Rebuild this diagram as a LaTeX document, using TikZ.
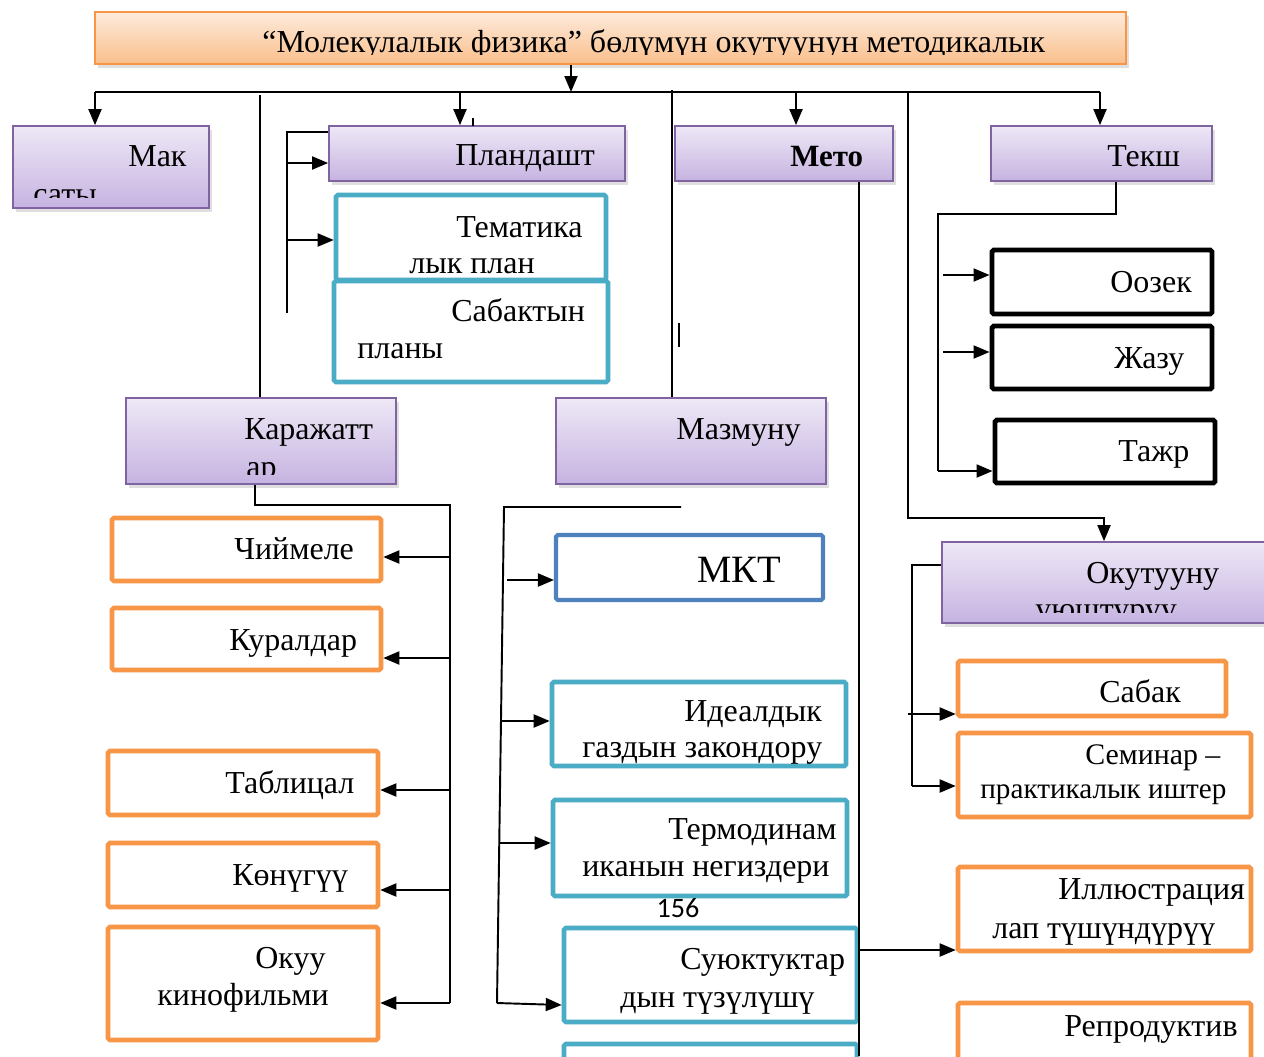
\documentclass[tikz,border=0pt]{standalone}
\usepackage{fontspec}
\setmainfont{Liberation Serif}
\newfontfamily\pagefont{Carlito}
\usetikzlibrary{arrows.meta,fit,shadows}
\definecolor{purpleline}{HTML}{8064A2}
\definecolor{purpletop}{HTML}{EEE8F6}
\definecolor{purplebot}{HTML}{C6B3E1}
\definecolor{orangeline}{HTML}{F79646}
\definecolor{orangetop}{HTML}{FDEBDC}
\definecolor{orangebot}{HTML}{FABF8C}
\definecolor{cyanline}{HTML}{4BACC6}
\definecolor{blueline}{HTML}{4F81BD}
\tikzset{
  headbox/.style = {draw=orangeline, line width=1pt, inner sep=0pt,
    top color=orangetop, bottom color=orangebot,
    drop shadow={shadow xshift=1.5pt, shadow yshift=-2pt, opacity=0.25}},
  purplebox/.style = {draw=purpleline, line width=1pt, inner sep=0pt,
    top color=purpletop, bottom color=purplebot,
    drop shadow={shadow xshift=1.5pt, shadow yshift=-2pt, opacity=0.25}},
  cyanbox/.style = {draw=cyanline, line width=2.6pt, inner sep=0pt, rounded corners=1pt},
  bluebox/.style = {draw=blueline, line width=2.3pt, inner sep=0pt, rounded corners=1pt},
  orangebox/.style = {draw=orangeline, line width=2.6pt, inner sep=0pt, rounded corners=1pt},
  blackbox/.style = {draw=black, line width=2.8pt, inner sep=0pt, rounded corners=1pt},
  lbl/.style = {anchor=base west, inner sep=0pt, font=\fontsize{18.2}{22}\selectfont},
  conn/.style = {line width=1.1pt}
}
\begin{document}
\begin{tikzpicture}[x=0.02cm, y=-0.02cm, >={Triangle[length=0.32cm,width=0.26cm]}]
\clip (0,0) rectangle (1264,1056);
\fill[white] (0,0) rectangle (1264,1056);

% boxes
\node[headbox, fit={(95,12) (1126,64)}] (title) {};
\node[purplebox, fit={(13,126) (209,208)}] (mak) {};
\node[purplebox, fit={(329,126) (625,181)}] (plan) {};
\node[purplebox, fit={(675,126) (893,181)}] (meto) {};
\node[purplebox, fit={(991,126) (1212,181)}] (teksh) {};
\node[cyanbox, fit={(336,195) (606,280)}] (tema) {};
\node[cyanbox, fit={(334,281) (608,382)}] (sabpl) {};
\node[purplebox, fit={(126,398) (396,484)}] (kar) {};
\node[purplebox, fit={(556,398) (826,484)}] (maz) {};
\node[blackbox, fit={(992,250) (1212,314)}] (oozek) {};
\node[blackbox, fit={(992,326) (1212,389)}] (jazu) {};
\node[blackbox, fit={(995,420) (1215,483)}] (tajr) {};
\node[purplebox, fit={(942,542) (1290,623)}] (okut) {};
\node[orangebox, fit={(958,661) (1226,716)}] (sabak) {};
\node[orangebox, fit={(958,733) (1251,817)}] (sem) {};
\node[orangebox, fit={(958,867) (1251,951)}] (ill) {};
\node[orangebox, fit={(958,1003) (1251,1090)}] (rep) {};
\node[orangebox, fit={(112,518) (381,581)}] (chiy) {};
\node[orangebox, fit={(112,608) (381,670)}] (kur) {};
\node[orangebox, fit={(108,751) (378,815)}] (tab) {};
\node[orangebox, fit={(108,843) (378,907)}] (kon) {};
\node[orangebox, fit={(108,927) (378,1040)}] (kino) {};
\node[bluebox, fit={(556,535) (823,600)}] (mkt) {};
\node[cyanbox, fit={(552,682) (846,766)}] (ideal) {};
\node[cyanbox, fit={(553,800) (847,896)}] (termo) {};
\node[cyanbox, fit={(564,928) (857,1022)}] (suy) {};
\node[cyanbox, fit={(564,1044) (857,1100)}] (last) {};

% texts
\begin{scope}
\clip (96,13) rectangle (1125,54);
\node[lbl] (titleT) at (262,52) {“Молекулалык физика” бөлүмүн окутуунун методикалык};
\end{scope}
\node[lbl] (makT) at (128,166) {Мак};
\begin{scope}
\clip (14,127) rectangle (208,197);
\node[lbl] (makT2) at (33,204) {саты};
\end{scope}
\node[lbl] (planT) at (455,165) {Пландашт};
\node[lbl, font=\fontsize{17.6}{22}\selectfont\bfseries] (metoT) at (790,166) {Мето};
\node[lbl] (tekshT) at (1107,166) {Текш};
\node[lbl] (temaT) at (456,237) {Тематика};
\node[lbl] (temaT2) at (409,273) {лык план};
\node[lbl] (sabplT) at (451,321) {Сабактын};
\node[lbl] (sabplT2) at (357,358) {планы};
\node[lbl] (karT) at (244,439) {Каражатт};
\begin{scope}
\clip (127,399) rectangle (395,474);
\node[lbl] (karT2) at (246,477) {ар};
\end{scope}
\node[lbl] (mazT) at (676,439) {Мазмуну};
\node[lbl] (oozekT) at (1110,292) {Оозек};
\node[lbl] (jazuT) at (1114,368) {Жазу};
\node[lbl] (tajrT) at (1118,461) {Тажр};
\node[lbl] (okutT) at (1086,583) {Окутууну};
\begin{scope}
\clip (943,543) rectangle (1264,612);
\node[lbl] (okutT2) at (1035,619) {уюштуруу};
\end{scope}
\node[lbl] (sabakT) at (1099,702) {Сабак};
\node[lbl, font=\fontsize{17}{20}\selectfont] (semT) at (1085,764) {Семинар –};
\node[lbl, font=\fontsize{16.6}{20}\selectfont] (semT2) at (980,798) {практикалык иштер};
\node[lbl] (illT) at (1058,899) {Иллюстрация};
\node[lbl] (illT2) at (992,938) {лап түшүндүрүү};
\node[lbl] (repT) at (1064,1036) {Репродуктив};
\node[lbl] (chiyT) at (234,559) {Чиймеле};
\node[lbl] (kurT) at (229,650) {Куралдар};
\node[lbl] (tabT) at (225,793) {Таблицал};
\node[lbl] (konT) at (232,885) {Көнүгүү};
\node[lbl] (kinoT) at (255,968) {Окуу};
\node[lbl] (kinoT2) at (157,1005) {кинофильми};
\node[lbl, font=\fontsize{22}{26}\selectfont] (mktT) at (697,582) {МКТ};
\node[lbl] (idealT) at (684,721) {Идеалдык};
\node[lbl] (idealT2) at (582,757) {газдын закондору};
\node[lbl] (termoT) at (668,839) {Термодинам};
\node[lbl] (termoT2) at (582,876) {иканын негиздери};
\node[lbl] (suyT) at (680,969) {Суюктуктар};
\node[lbl] (suyT2) at (620,1007) {дын түзүлүшү};
\node[inner sep=0pt, font=\pagefont\fontsize{16}{19}\selectfont] (page) at (678,908) {156};

% connectors
\coordinate (b0) at (571,92);
\coordinate (b1) at (95,92);
\coordinate (b2) at (460,92);
\coordinate (b3) at (796,92);
\coordinate (b4) at (1100,92);
\draw[conn,->] (title.south -| b0) -- (b0);
\draw[conn] (b1) -- (b4);
\draw[conn,->] (b1) -- (b1 |- mak.north);
\draw[conn,->] (b2) -- (b2 |- plan.north);
\draw[conn,->] (b3) -- (b3 |- meto.north);
\draw[conn,->] (b4) -- (b4 |- teksh.north);
\draw[conn] (473,118) -- (473 ,126);
\draw[conn] (260,95) -- (kar.north -| 260,0);
\draw[conn] (672,90) -- (maz.north -| 672,0);
\draw[conn,->] (908,92) -- (908,518) -- (1104,518) -- (okut.north -| 1104,0);

\coordinate (p1) at (287,132);
\coordinate (p2) at (287,313);
\draw[conn] (plan.north west |- p1) -- (p1) -- (p2);
\draw[conn,->] (287,163) -- (plan.west |- 0,163);
\draw[conn,->] (287,240) -- (tema.west |- 0,240);
\draw[conn] (679,323) -- (679,347);

\coordinate (k1) at (450,505);
\coordinate (k2) at (450,1003);
\draw[conn] (kar.south -| 255,0) |- (k1) -- (k2);
\foreach \n/\y in {chiy/557, kur/658, tab/790, kon/890, kino/1003}
  \draw[conn,->] (450,\y) -- (\n.east |- 0,\y);

\coordinate (m1) at (681,507);
\coordinate (m2) at (504,507);
\coordinate (m3) at (497,1003);
\draw[conn] (m1) -- (m2) -- (m3);
\draw[conn,->] (507,580) -- (mkt.west |- 0,580);
\draw[conn,->] (502,721) -- (ideal.west |- 0,721);
\draw[conn,->] (500,843) -- (termo.west |- 0,843);
\draw[conn,->] (m3) -- (suy.west |- 0,1005);

\draw[conn] (meto.south -| 859,0) -- (859,1056);
\draw[conn,->] (859,950) -- (ill.west |- 0,950);

\draw[conn] (teksh.south -| 1116,0) -- (1116,214) -- (938,214) -- (938,471);
\draw[conn,->] (938,471) -- (tajr.west |- 0,471);
\draw[conn,->] (943,275) -- (oozek.west |- 0,275);
\draw[conn,->] (943,352) -- (jazu.west |- 0,352);

\draw[conn] (okut.west |- 0,565) -- (912,565) -- (912,786);
\draw[conn,->] (912,786) -- (sem.west |- 0,786);
\draw[conn,->] (908,714) -- (sabak.west |- 0,714);
\end{tikzpicture}
\end{document}
